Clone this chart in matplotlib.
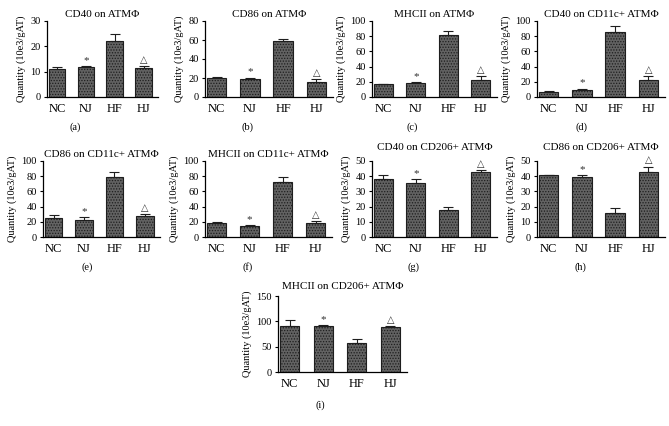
import numpy as np
import matplotlib
matplotlib.use("Agg")
import matplotlib.pyplot as plt

plt.rcParams['font.family'] = ['Liberation Serif', 'DejaVu Serif']
plt.rcParams['hatch.linewidth'] = 0.6

groups = ["NC", "NJ", "HF", "HJ"]

titles = ["CD40 on ATMΦ", "CD86 on ATMΦ", "MHCII on ATMΦ", "CD40 on CD11c+ ATMΦ",
          "CD86 on CD11c+ ATMΦ", "MHCII on CD11c+ ATMΦ", "CD40 on CD206+ ATMΦ",
          "CD86 on CD206+ ATMΦ", "MHCII on CD206+ ATMΦ"]
panel_tags = ["(a)", "(b)", "(c)", "(d)", "(e)", "(f)", "(g)", "(h)", "(i)"]

means = [
    [11.0, 11.8, 22.0, 11.3],
    [20.0, 18.5, 58.5, 16.0],
    [16.5, 18.0, 81.0, 23.0],
    [6.5, 9.0, 86.0, 22.5],
    [24.5, 22.5, 78.5, 27.5],
    [18.0, 14.5, 72.0, 19.0],
    [38.0, 35.5, 17.5, 43.0],
    [40.5, 39.5, 16.0, 42.8],
    [91.0, 90.0, 57.0, 88.0],
]
errs = [
    [1.0, 0.5, 3.0, 1.0],
    [1.5, 2.0, 3.0, 2.5],
    [1.0, 2.0, 6.0, 4.5],
    [1.0, 2.0, 8.0, 5.0],
    [5.0, 3.5, 7.0, 3.0],
    [1.5, 1.0, 7.0, 1.5],
    [3.0, 2.5, 2.5, 1.0],
    [0.5, 1.0, 3.0, 3.5],
    [11.0, 2.0, 9.0, 2.0],
]
ymax = [30, 80, 100, 100, 100, 100, 50, 50, 150]
ystep = [10, 20, 20, 20, 20, 20, 10, 10, 50]

# axes boxes in pixels: left, right, top, bottom ; tag position ; title pad
W, H = 669, 426
boxes = [
    (47, 158, 21, 97, 75, 127, 3), (205, 333, 21, 97, 248, 127, 3),
    (372, 497, 21, 97, 412, 127, 3), (537, 665, 21, 97, 582, 127, 3),
    (43, 160, 161, 237, 87, 267, 3), (205, 332, 161, 237, 248, 267, 3),
    (372, 497, 161, 237, 413, 267, 8), (537, 665, 161, 237, 580, 267, 8),
    (278, 407, 296, 372, 320, 405, 5),
]

fig = plt.figure(figsize=(W / 100, H / 100), dpi=100)
x = np.arange(len(groups))

for i in range(9):
    l, r, t, b, tx, ty, tpad = boxes[i]
    ax = fig.add_axes([l / W, 1 - b / H, (r - l) / W, (b - t) / H])
    m = np.array(means[i])
    e = np.array(errs[i])
    ax.bar(x, m, width=0.58, color="#626262", edgecolor="#1e1e1e", linewidth=0.8,
           hatch="......", zorder=2)
    ax.errorbar(x, m, yerr=[np.zeros(4), e], fmt="none", ecolor="#1e1e1e",
                elinewidth=0.8, capsize=3.5, capthick=0.8, zorder=3)
    off = ymax[i] * 0.015
    ax.text(1, m[1] + e[1] + off, "*", ha="center", va="bottom", fontsize=8, color="#333333")
    ax.text(3, m[3] + e[3] + off, "△", ha="center", va="bottom", fontsize=7,
            family=["DejaVu Sans"], color="#333333")
    ax.set_xlim(-0.35, 3.5)
    ax.set_ylim(0, ymax[i])
    ax.set_yticks(np.arange(0, ymax[i] + 1, ystep[i]))
    ax.set_xticks(x)
    ax.set_xticklabels(groups, fontsize=9)
    ax.tick_params(axis="y", labelsize=7.5, length=2.5, width=0.8, pad=2)
    ax.tick_params(axis="x", length=0, pad=4)
    for s in ["top", "right"]:
        ax.spines[s].set_visible(False)
    for s in ["left", "bottom"]:
        ax.spines[s].set_linewidth(0.9)
    ax.set_title(titles[i], fontsize=8, pad=tpad)
    ax.set_ylabel("Quantity (10e3/gAT)", fontsize=7.5, labelpad=3)
    fig.text(tx / W, 1 - ty / H, panel_tags[i], ha="center", va="center", fontsize=7.5)

fig.savefig("out.png", dpi=100)
